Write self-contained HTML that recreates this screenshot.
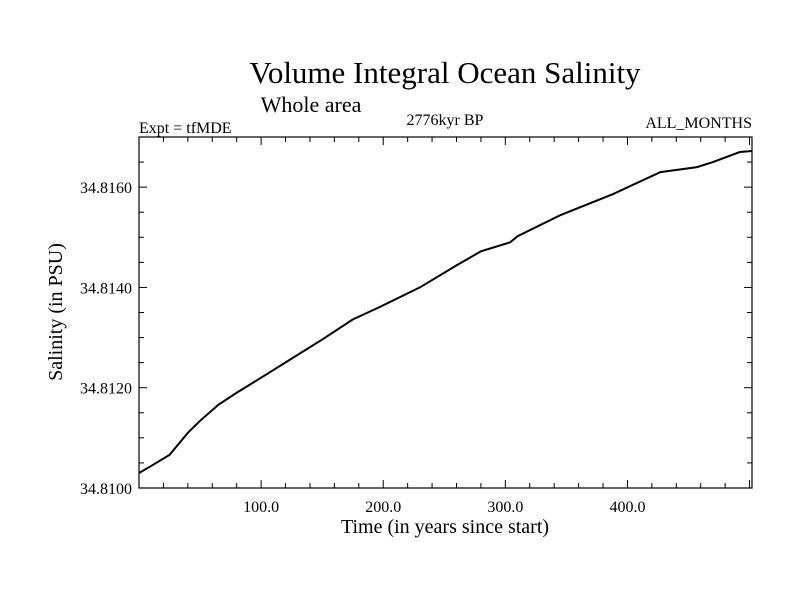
<!DOCTYPE html>
<html><head><meta charset="utf-8"><style>
body{margin:0;background:#fff}
svg text{font-family:"Liberation Serif",serif;fill:#000}
</style></head><body>
<svg id="c" width="800" height="600">
<text x="445" y="83" font-size="31" text-anchor="middle">Volume Integral Ocean Salinity</text>
<text x="311" y="112" font-size="22" text-anchor="middle">Whole area</text>
<text x="139" y="133" font-size="16">Expt = tfMDE</text>
<text x="445" y="125" font-size="16" text-anchor="middle">2776kyr BP</text>
<text x="752" y="128" font-size="16" text-anchor="end">ALL_MONTHS</text>
<text x="445" y="533" font-size="20" text-anchor="middle">Time (in years since start)</text>
<text x="62" y="312" font-size="20" text-anchor="middle" transform="rotate(-90 62 312)">Salinity (in PSU)</text>
<g id="ax"></g>
<rect x="139" y="137" width="613" height="351" fill="none" stroke="#000" stroke-width="1.2"/>
</svg>
<script>
const years=[0,10,25,40,50,65,80,100,125,150,175,198,230,260,280,304,310,345,388,427,457,470,492,502];
const salinity=[34.81030,34.81044,34.81066,34.81110,34.81134,34.81166,34.81190,34.81220,34.81258,34.81296,34.81336,34.81362,34.81400,34.81444,34.81472,34.81490,34.81502,34.81544,34.81586,34.81630,34.81640,34.81650,34.81670,34.81672];
const xTicks=[100,200,300,400];
const xTickLabels=["100.0","200.0","300.0","400.0"];
const yTicks=[34.8100,34.8120,34.8140,34.8160];
const yTickLabels=["34.8100","34.8120","34.8140","34.8160"];
const X0=139,X1=752,Y0=488,Y1=137,XMIN=0,XMAX=502,YMIN=34.81,YMAX=34.817;
const sx=v=>X0+(v-XMIN)/(XMAX-XMIN)*(X1-X0);
const sy=v=>Y0-(v-YMIN)/(YMAX-YMIN)*(Y0-Y1);
const NS="http://www.w3.org/2000/svg",g=document.getElementById('ax');
function mk(t,a){const e=document.createElementNS(NS,t);for(const k in a)e.setAttribute(k,a[k]);g.appendChild(e);return e;}
for(let v=20;v<XMAX;v+=20){const major=v%100===0,L=major?8:5,x=sx(v);
const t1=mk('line',{x1:x,x2:x,y1:Y0,y2:Y0-L,stroke:'#000'});


const t2=mk('line',{x1:x,x2:x,y1:Y1,y2:Y1+L,stroke:'#000'});

}
xTicks.forEach((v,i)=>{const t=mk('text',{x:sx(v),y:Y0+24,'font-size':16,'text-anchor':'middle'});t.textContent=xTickLabels[i];

});
for(let k=0;k<=35;k++){const v=YMIN+k*0.0005;if(v>YMAX+1e-9)break;const major=k%4===0,L=major?8:5,y=sy(v);
const t1=mk('line',{x1:X0,x2:X0+L,y1:y,y2:y,stroke:'#000'});


const t2=mk('line',{x1:X1,x2:X1-L,y1:y,y2:y,stroke:'#000'});

}
yTicks.forEach((v,i)=>{const t=mk('text',{x:X0-7,y:sy(v)+6,'font-size':16,'text-anchor':'end'});t.textContent=yTickLabels[i];

});
const p=mk('polyline',{points:years.map((v,i)=>sx(v)+','+sy(salinity[i])).join(' '),fill:'none',stroke:'#000','stroke-width':2});


</script>
</body></html>
